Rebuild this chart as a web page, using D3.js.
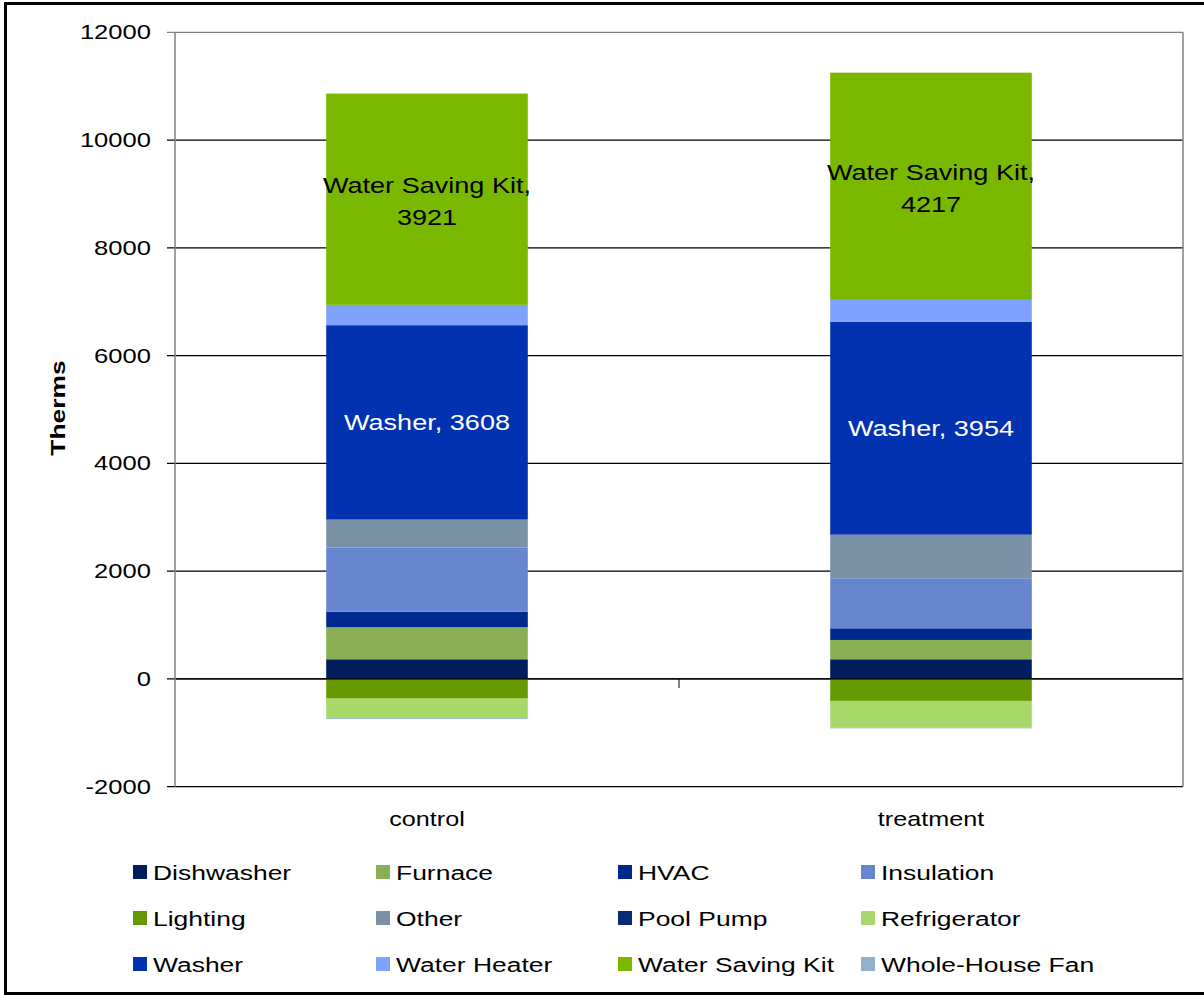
<!DOCTYPE html>
<html><head><meta charset="utf-8">
<script src="https://cdn.jsdelivr.net/npm/d3@7"></script>
<style>body{margin:0;background:#fff}svg{display:block;font-family:"Liberation Sans",Arial,sans-serif}</style>
</head><body><svg id="c" width="1204" height="995"></svg>
<script>
const categories = ["control","treatment"];
const seriesNames = ["Dishwasher","Furnace","HVAC","Insulation","Lighting","Other","Pool Pump","Refrigerator","Washer","Water Heater","Water Saving Kit","Whole-House Fan"];
const seriesColors = ["#001e5e","#8ab055","#00298f","#6886d0","#669900","#7b91a5","#0a2a78","#a6d96a","#0332b0","#7fa3fc","#7ab800","#93b1cf"];
const controlValues =   [365, 594, 290, 1188, -365, 520, 0, -364, 3608, 377, 3921, -15];
const treatmentValues = [365, 358, 217, 928, -408, 809, 0, -495, 3954, 403, 4217, -15];
const yTicks = [-2000,0,2000,4000,6000,8000,10000,12000];
const labelSeries = {"Washer":"#fff","Water Saving Kit":"#000"};

const SX = 1.26; // horizontal stretch of text in the reference
const svg = d3.select("#c");
const L=175,R=1183,T=32.3,B=786.7;
const x = d3.scaleBand().domain(categories).range([L,R]);
const y = d3.scaleLinear().domain([-2000,12000]).range([B,T]);
const barW = x.bandwidth()*0.4;

function txt(parent, px, py, s, size, anchor, fill){
  return parent.append("text").attr("transform",`translate(${px},${py}) scale(${SX},1)`)
    .attr("text-anchor",anchor||"start").attr("font-size",size).attr("fill",fill||"#000").text(s);
}

svg.append("rect").attr("x",5.5).attr("y",3.5).attr("width",1200).attr("height",990).attr("fill","none").attr("stroke","#000").attr("stroke-width",3);

svg.append("g").selectAll("line").data(yTicks).join("line")
  .attr("x1",L-8).attr("x2",R).attr("y1",d=>y(d)).attr("y2",d=>y(d))
  .attr("stroke",d=>d===12000?"#808080":"#000").attr("stroke-width",1.2);
svg.append("line").attr("x1",R).attr("x2",R).attr("y1",T).attr("y2",B).attr("stroke","#808080").attr("stroke-width",1.5);

const data = [controlValues, treatmentValues];
const labels = [];
data.forEach((vals,ci)=>{
  let pos=0, neg=0;
  const cx = x(categories[ci]) + x.bandwidth()/2;
  vals.forEach((v,si)=>{
    if(v===0) return;
    let y0,y1;
    if(v>0){y0=pos;y1=pos+v;pos=y1;} else {y0=neg;y1=neg+v;neg=y1;}
    svg.append("rect").attr("x",cx-barW/2).attr("width",barW)
      .attr("y",y(Math.max(y0,y1))).attr("height",Math.abs(y(y0)-y(y1)))
      .attr("fill",seriesColors[si]);
    const nm = seriesNames[si];
    if(labelSeries[nm]) labels.push({nm,v,cx,my:y((y0+y1)/2)});
  });
});
labels.forEach(({nm,v,cx,my})=>{
  const f = labelSeries[nm];
  if(nm==="Water Saving Kit"){
    txt(svg,cx,my-6,nm+",",21.5,"middle",f);
    txt(svg,cx,my+26,String(v),21.5,"middle",f);
  } else {
    txt(svg,cx,my+8,nm+", "+v,21.5,"middle",f);
  }
});

svg.append("line").attr("x1",L).attr("x2",R).attr("y1",y(0)).attr("y2",y(0)).attr("stroke","#000").attr("stroke-width",1.2);
svg.append("line").attr("x1",L).attr("x2",L).attr("y1",T).attr("y2",B).attr("stroke","#808080").attr("stroke-width",1.5);
svg.append("line").attr("x1",x(categories[1])).attr("x2",x(categories[1])).attr("y1",y(0)).attr("y2",y(0)+9).attr("stroke","#000").attr("stroke-width",1);

yTicks.forEach(d=>txt(svg,151,y(d)+7,String(d),20.3,"end"));
categories.forEach(d=>txt(svg,x(d)+x.bandwidth()/2,826,d,20,"middle"));
svg.append("text").attr("transform",`translate(65,408) rotate(-90) scale(${SX},1)`).attr("text-anchor","middle").attr("font-size",21).attr("font-weight","bold").text("Therms");

const colX=[133,376,618,861], rowY=[872,918,964];
seriesNames.forEach((n,i)=>{
  const cx=colX[i%4], cy=rowY[Math.floor(i/4)];
  svg.append("rect").attr("x",cx).attr("y",cy-7).attr("width",14).attr("height",14).attr("fill",seriesColors[i]);
  txt(svg,cx+20,cy+7.5,n,21,"start");
});
</script></body></html>
